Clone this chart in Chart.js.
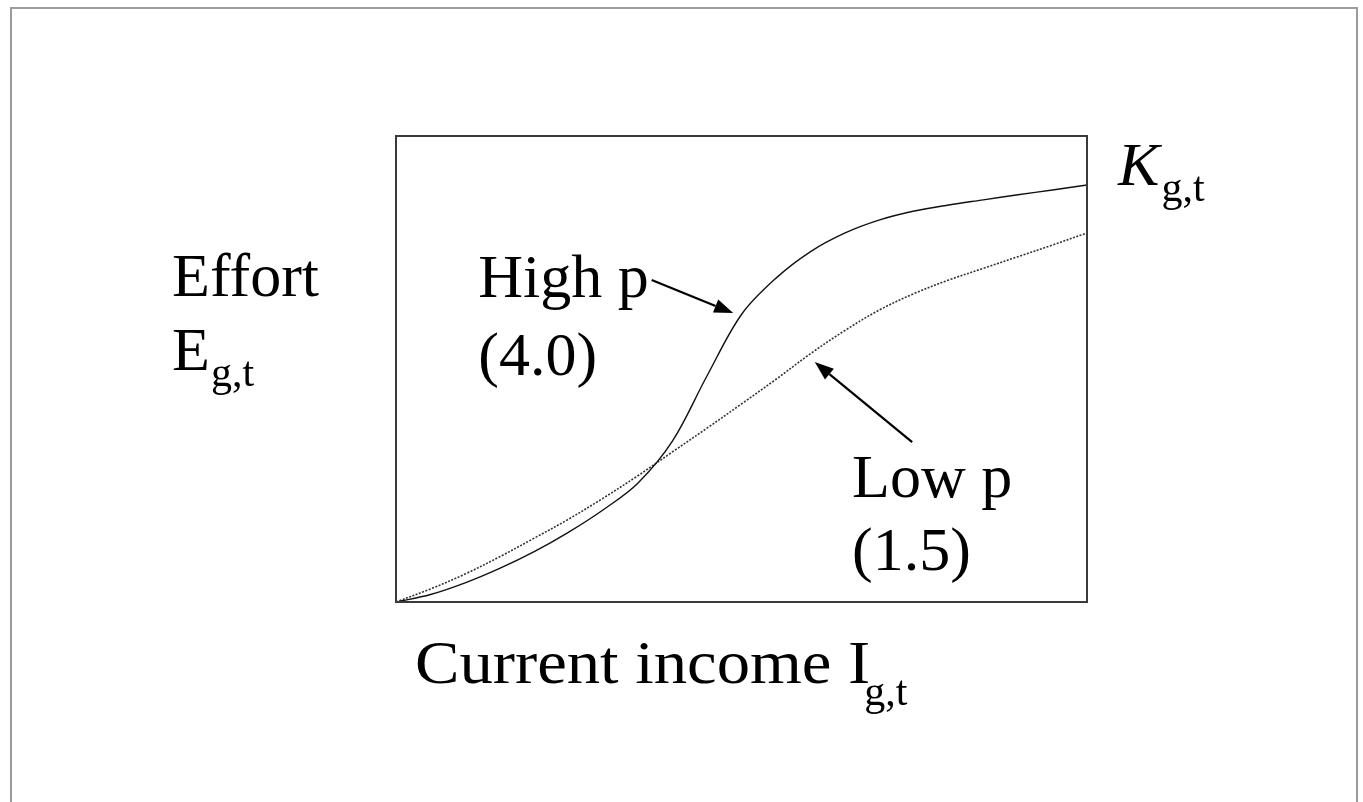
<!DOCTYPE html>
<html>
<head>
<meta charset="utf-8">
<script src="https://cdn.jsdelivr.net/npm/chart.js@4.4.1/dist/chart.umd.min.js"></script>
<style>
  html, body { margin: 0; padding: 0; background: #fff; }
  #wrap { position: relative; width: 1363px; height: 802px; overflow: hidden; }
  #frame { position: absolute; left: 10px; top: 7px; width: 1348px; height: 820px;
           border: 2px solid #9c9c9c; box-sizing: border-box; pointer-events: none; }
  canvas { position: absolute; left: 0; top: 0; }
</style>
</head>
<body>
<div id="wrap">
  <canvas id="c" width="1363" height="802"></canvas>
  <div id="frame"></div>
</div>
<script>
// ---- data (x = current income share, y = effort share of K) ----
const incomeX = [0, 0.05, 0.1, 0.15, 0.2, 0.25, 0.3, 0.35, 0.4, 0.45, 0.5, 0.55, 0.6, 0.65, 0.7, 0.75, 0.8, 0.85, 0.9, 0.95, 1.0];
const highP   = [0, 0.016, 0.041, 0.072, 0.108, 0.15, 0.198, 0.255, 0.345, 0.485, 0.617, 0.695, 0.752, 0.792, 0.82, 0.839, 0.852, 0.863, 0.874, 0.884, 0.895];
const lowP    = [0, 0.028, 0.06, 0.097, 0.137, 0.178, 0.223, 0.271, 0.322, 0.373, 0.425, 0.478, 0.533, 0.583, 0.627, 0.662, 0.691, 0.716, 0.741, 0.766, 0.792];

// ---- text ----
const yLabel1 = "Effort";
const yLabel2 = "E";
const xLabel = "Current income I";
const sub = "g,t";
const highLabel = ["High p", "(4.0)"];
const lowLabel = ["Low p", "(1.5)"];
const capLabel = "K";

// ---- annotation placement (in data units) ----
const place = {
  effort: [-0.324, 0.657], eLabel: [-0.324, 0.498],
  high1: [0.119, 0.655], high2: [0.119, 0.487],
  low1: [0.660, 0.225], low2: [0.660, 0.069],
  xlab: [0.0275, -0.174], k: [1.045, 0.895],
  highArrow: [[0.370, 0.691], [0.488, 0.620]],
  lowArrow: [[0.747, 0.343], [0.606, 0.515]]
};

const FONT = '"Liberation Serif", "Times New Roman", serif';
const MAIN = 62, SUBF = 42, SUBDY = 16;

function pts(ys) { return incomeX.map((x, i) => ({ x: x, y: ys[i] })); }

const annot = {
  id: 'annot',
  afterDraw(chart) {
    const ctx = chart.ctx, xs = chart.scales.x, ys = chart.scales.y, a = chart.chartArea;
    const P = p => [xs.getPixelForValue(p[0]), ys.getPixelForValue(p[1])];
    ctx.save();
    // plot box
    ctx.strokeStyle = '#3a3a3a';
    ctx.lineWidth = 2;
    ctx.strokeRect(a.left, a.top, a.right - a.left, a.bottom - a.top);
    ctx.fillStyle = '#000';
    ctx.textBaseline = 'alphabetic';
    ctx.textAlign = 'left';
    const txt = (s, p, italic, sx) => {
      const [px, py] = P(p);
      sx = sx || 1;
      ctx.font = (italic ? 'italic ' : '') + MAIN + 'px ' + FONT;
      ctx.save();
      ctx.translate(px, py);
      ctx.scale(sx, 1);
      ctx.fillText(s, 0, 0);
      ctx.restore();
      return [px + ctx.measureText(s).width * sx, py];
    };
    const subtxt = (end, dx, dy) => {
      ctx.font = SUBF + 'px ' + FONT;
      ctx.fillText(sub, end[0] + (dx || 1), end[1] + (dy || SUBDY));
    };
    txt(yLabel1, place.effort);
    subtxt(txt(yLabel2, place.eLabel));
    txt(highLabel[0], place.high1);
    txt(highLabel[1], place.high2);
    txt(lowLabel[0], place.low1);
    txt(lowLabel[1], place.low2);
    subtxt(txt(xLabel, place.xlab, false, 1.075), -6, 22);
    subtxt(txt(capLabel, place.k, true), 2);
    // arrows
    const arrow = (pair) => {
      const [x0, y0] = P(pair[0]), [x1, y1] = P(pair[1]);
      const ang = Math.atan2(y1 - y0, x1 - x0), L = 19, W = 7;
      const bx = x1 - L * Math.cos(ang), by = y1 - L * Math.sin(ang);
      ctx.strokeStyle = '#000'; ctx.lineWidth = 2.2; ctx.setLineDash([]);
      ctx.beginPath(); ctx.moveTo(x0, y0); ctx.lineTo(bx, by); ctx.stroke();
      ctx.beginPath();
      ctx.moveTo(x1, y1);
      ctx.lineTo(bx + W * Math.sin(ang), by - W * Math.cos(ang));
      ctx.lineTo(bx - W * Math.sin(ang), by + W * Math.cos(ang));
      ctx.closePath(); ctx.fill();
    };
    arrow(place.highArrow);
    arrow(place.lowArrow);
    ctx.restore();
  }
};

new Chart(document.getElementById('c'), {
  type: 'scatter',
  data: {
    datasets: [
      { label: 'High p (4.0)', data: pts(highP), showLine: true, borderColor: '#111', borderWidth: 1.4,
        pointRadius: 0, tension: 0.35, fill: false },
      { label: 'Low p (1.5)', data: pts(lowP), showLine: true, borderColor: '#333', borderWidth: 1.6,
        borderDash: [2, 1.5], pointRadius: 0, tension: 0.35, fill: false }
    ]
  },
  options: {
    responsive: false,
    animation: false,
    layout: { padding: { left: 396, top: 136, right: 276, bottom: 200 } },
    scales: {
      x: { type: 'linear', min: 0, max: 1, display: false },
      y: { type: 'linear', min: 0, max: 1, display: false }
    },
    plugins: { legend: { display: false }, tooltip: { enabled: false } }
  },
  plugins: [annot]
});
</script>
</body>
</html>
